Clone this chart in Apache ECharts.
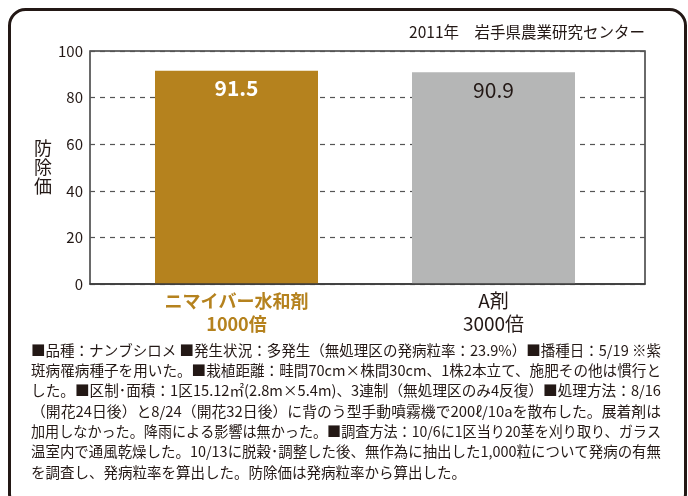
<!DOCTYPE html>
<html><head><meta charset="utf-8">
<script src="https://cdn.jsdelivr.net/npm/echarts@6/dist/echarts.min.js"></script>
<style>html,body{margin:0;padding:0;background:#fff}#c{width:688px;height:496px}</style>
</head><body><div id="c"></div>
<script>
const categories = ['ニマイバー水和剤\n1000倍', 'A剤\n3000倍'];
const values = [91.5, 90.9];
const barColors = ['#B5821E', '#B5B6B6'];
const valueLabelColors = ['#ffffff', '#231815'];
const valueLabelWeights = ['bold', 'normal'];
const catLabelColors = ['#B5821E', '#231815'];
const catLabelWeights = ['bold', 'normal'];
const yMin = 0, yMax = 100, yStep = 20;
const titleText = '2011年　岩手県農業研究センター';
const yName = '防除価';
const noteLines = [
  '■品種：ナンブシロメ ■発生状況：多発生（無処理区の発病粒率：23.9%）■播種日：5/19 ※紫',
  '斑病罹病種子を用いた。■栽植距離：畦間70cm×株間30cm、1株2本立て、施肥その他は慣行と',
  'した。■区制･面積：1区15.12㎡(2.8m×5.4m)、3連制（無処理区のみ4反復）■処理方法：8/16',
  '（開花24日後）と8/24（開花32日後）に背のう型手動噴霧機で200ℓ/10aを散布した。展着剤は',
  '加用しなかった。降雨による影響は無かった。■調査方法：10/6に1区当り20茎を刈り取り、ガラス',
  '温室内で通風乾燥した。10/13に脱穀･調整した後、無作為に抽出した1,000粒について発病の有無',
  'を調査し、発病粒率を算出した。防除価は発病粒率から算出した。'
];

const FONT = '"Noto Sans CJK JP", "Noto Sans", sans-serif';
const DARK = '#231815';
const NOTE_FONT = '14.5px ' + FONT;
const chart = echarts.init(document.getElementById('c'), null, {renderer: 'canvas'});

const measureCtx = document.createElement('canvas').getContext('2d');
measureCtx.font = NOTE_FONT;

const graphics = [
  {type: 'rect', z: -10, shape: {x: 9.5, y: 9.5, width: 676, height: 500, r: 16},
   style: {fill: 'none', stroke: DARK, lineWidth: 3}},
  {type: 'text', right: 43, top: 24,
   style: {text: titleText, font: '15.5px ' + FONT, fill: DARK}}
];
noteLines.forEach((t, i) => {
  const w = measureCtx.measureText(t).width;
  const sx = i < noteLines.length - 1 ? 630 / w : 1;
  graphics.push({type: 'text', x: 31, y: 343 + i * 20.3, scaleX: sx,
    style: {text: t, x: 0, y: 0, font: NOTE_FONT, fill: DARK, textVerticalAlign: 'top'}});
});

chart.setOption({
  animation: false,
  textStyle: {fontFamily: FONT},
  graphic: graphics,
  grid: [
    {left: 90, top: 51, width: 555, height: 233, show: true, borderColor: '#3a3a3a', borderWidth: 1.5, backgroundColor: 'transparent'},
    {left: 108, top: 51, width: 514, height: 233}
  ],
  xAxis: [
    {gridIndex: 0, type: 'category', data: [''], z: 5,
     axisLine: {show: true, lineStyle: {color: '#3a3a3a', width: 1.5}},
     axisTick: {show: false}, axisLabel: {show: false}, splitLine: {show: false}},
    {gridIndex: 1, type: 'category', data: categories,
     axisLine: {show: false}, axisTick: {show: false},
     axisLabel: {margin: 5, interval: 0,
       formatter: (v, i) => v.split('\n').map(s => '{c' + i + '|' + s + '}').join('\n'),
       rich: {
         c0: {color: catLabelColors[0], fontWeight: catLabelWeights[0], fontSize: 18, lineHeight: 23.5, fontFamily: FONT},
         c1: {color: catLabelColors[1], fontWeight: catLabelWeights[1], fontSize: 19, lineHeight: 23.5, fontFamily: FONT}
       }}}
  ],
  yAxis: [
    {gridIndex: 0, type: 'value', min: yMin, max: yMax, interval: yStep,
     name: yName.split('').join('\n'), nameLocation: 'middle', nameRotate: 0, nameGap: 30,
     nameTextStyle: {fontSize: 18, lineHeight: 19, color: DARK, fontFamily: FONT},
     axisLine: {show: false}, axisTick: {show: false},
     axisLabel: {color: DARK, fontSize: 15, margin: 7, fontFamily: FONT},
     splitLine: {show: true, lineStyle: {color: '#555', type: [5, 5], width: 1.2}}},
    {gridIndex: 1, type: 'value', min: yMin, max: yMax, show: false, splitLine: {show: false}}
  ],
  series: [{
    type: 'bar', xAxisIndex: 1, yAxisIndex: 1, barWidth: 163,
    data: values.map((v, i) => ({
      value: v,
      itemStyle: {color: barColors[i]},
      label: {show: true, position: 'insideTop', distance: 7, color: valueLabelColors[i],
              fontWeight: valueLabelWeights[i], fontSize: 21, fontFamily: FONT}
    }))
  }]
});
</script></body></html>
